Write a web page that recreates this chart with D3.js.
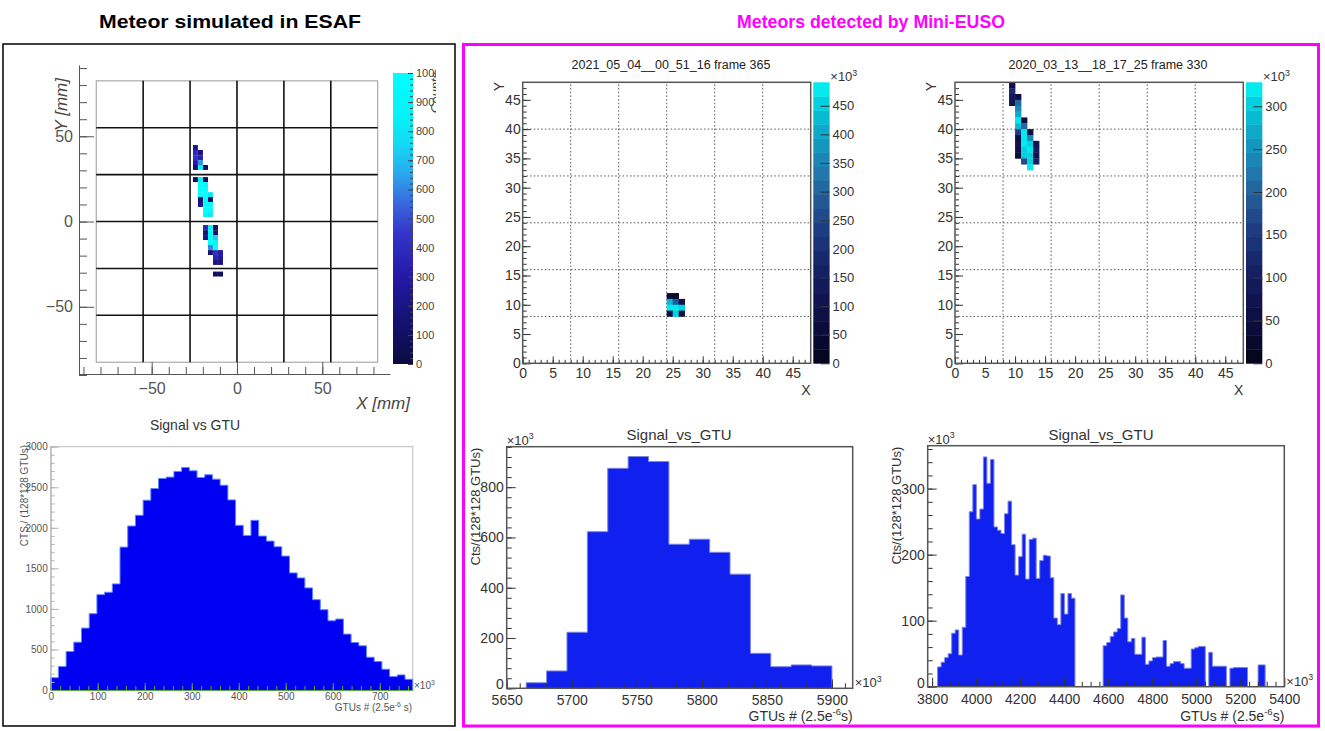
<!DOCTYPE html>
<html>
<head>
<meta charset="utf-8">
<title>Meteor: ESAF simulation vs Mini-EUSO detections</title>
<script src="https://cdn.jsdelivr.net/npm/d3@7"></script>
<style>
  body { margin: 0; background: #fff; }
  svg { display: block; font-family: "Liberation Sans", Arial, Helvetica, sans-serif; }
</style>
</head>
<body>
<svg id="chart" width="1325" height="731"></svg>
<script>
// Panel headings
const leftHeading = "Meteor simulated in ESAF";
const rightHeading = "Meteors detected by Mini-EUSO";

// ESAF focal surface image: [x mm, y mm, counts] (cell centres)
const esafCells = [
  [-24.35, 43.4, 220], [-24.35, 40.5, 380], [-24.35, 37.5, 420], [-24.35, 34.6, 300], [-24.35, 31.7, 160],
  [-21.4, 40.5, 180], [-21.4, 37.5, 330], [-21.4, 34.6, 620], [-21.4, 31.7, 880], [-18.45, 31.7, 90],
  [-24.35, 24.6, 90], [-21.4, 24.6, 850], [-18.45, 24.6, 80],
  [-21.4, 21.7, 980], [-18.45, 21.7, 940],
  [-21.4, 18.8, 1000], [-18.45, 18.8, 1000],
  [-21.4, 15.8, 950], [-18.45, 15.8, 1000], [-15.55, 15.8, 820],
  [-21.4, 12.9, 140], [-18.45, 12.9, 1000], [-15.55, 12.9, 110],
  [-21.4, 10.0, 200], [-18.45, 10.0, 1000], [-15.55, 10.0, 960],
  [-18.45, 7.0, 1000], [-15.55, 7.0, 950],
  [-18.45, 4.1, 900], [-15.55, 4.1, 820],
  [-18.45, -3.5, 380], [-15.55, -3.5, 900], [-12.6, -3.5, 90],
  [-18.45, -6.5, 160], [-15.55, -6.5, 1000], [-12.6, -6.5, 120],
  [-18.45, -9.4, 200], [-15.55, -9.4, 950], [-12.6, -9.4, 720],
  [-15.55, -12.3, 1000], [-12.6, -12.3, 900],
  [-15.55, -15.2, 600], [-12.6, -15.2, 1000],
  [-15.55, -18.2, 150], [-12.6, -18.2, 420], [-9.65, -18.2, 300],
  [-12.6, -21.1, 350], [-9.65, -21.1, 260],
  [-12.6, -24.0, 220], [-9.65, -24.0, 200],
  [-12.6, -30.8, 110], [-9.65, -30.8, 90]
];
const esafCellSize = 2.9;
const esafEcLines = [-55, -27.5, 0, 27.5, 55];
const esafPdmHalf = 82.5;
const esafAxisTicks = [-50, 0, 50];
const esafCountTicks = [0, 100, 200, 300, 400, 500, 600, 700, 800, 900, 1000];

// ESAF light curve (GTU x10^3, 47 bins)
const esafHistRange = [0, 770];
const esafHistValues = [152, 289, 474, 590, 763, 941, 1176, 1205, 1308, 1762,
  2022, 2154, 2340, 2484, 2608, 2625, 2695, 2744, 2703, 2621,
  2654, 2600, 2525, 2344, 2030, 1906, 2092, 1898, 1836, 1766,
  1651, 1444, 1382, 1259, 1114, 990, 854, 875, 689, 586,
  545, 404, 351, 256, 165, 186, 132];
const esafHistXTicks = [0, 100, 200, 300, 400, 500, 600, 700];
const esafHistYTicks = [0, 500, 1000, 1500, 2000, 2500, 3000];

// Mini-EUSO frames: [pixel x, pixel y, counts x10^3]
const frameTitles = ["2021_05_04__00_51_16 frame 365", "2020_03_13__18_17_25 frame 330"];
const frameAPixels = [
  [24, 11, 60], [25, 11, 40],
  [24, 10, 420], [25, 10, 280], [26, 10, 100],
  [24, 9, 470], [25, 9, 490], [26, 9, 460],
  [24, 8, 80], [25, 8, 450], [26, 8, 90]
];
const frameBPixels = [
  [9, 47, 60], [9, 46, 120], [9, 45, 90], [9, 44, 70],
  [10, 45, 60], [10, 44, 200], [10, 43, 230], [10, 42, 270], [10, 41, 320], [10, 40, 290],
  [10, 39, 150], [10, 38, 60], [10, 37, 80], [10, 36, 50], [10, 35, 40],
  [11, 41, 60], [11, 40, 200], [11, 39, 320], [11, 38, 328], [11, 37, 320], [11, 36, 310],
  [11, 35, 300], [11, 34, 180],
  [12, 39, 50], [12, 38, 230], [12, 37, 310], [12, 36, 320], [12, 35, 300], [12, 34, 310], [12, 33, 320],
  [13, 37, 70], [13, 36, 90], [13, 35, 80], [13, 34, 100]
];
const frameZMax = [491, 328];
const frameAZTicks = [0, 50, 100, 150, 200, 250, 300, 350, 400, 450];
const frameBZTicks = [0, 50, 100, 150, 200, 250, 300];
const pixelTicks = [0, 5, 10, 15, 20, 25, 30, 35, 40, 45];
const pixelGrid = [8, 16, 24, 32, 40];

// Mini-EUSO light curves (counts x10^3 per bin)
const histTitle = "Signal_vs_GTU";
const histAStart = 5665, histABin = 15.67;
const histAValues = [22, 69, 223, 623, 875, 922, 902, 573, 593, 541, 454, 139, 86, 93, 89];
const histAXTicks = [5650, 5700, 5750, 5800, 5850, 5900];
const histAYTicks = [0, 200, 400, 600, 800];
const histBStart = 3825, histBBin = 16;
const histBValues = [30, 37, 44, 50, 81, 86, 48, 90, 167, 265,
  306, 254, 269, 348, 308, 344, 242, 237, 232, 262,
  281, 215, 169, 197, 231, 163, 223, 225, 164, 191,
  199, 198, 165, 104, 94, 141, 110, 141, 134,
  0, 0, 0, 0, 0, 0, 0, 0,
  62, 67, 76, 83, 88, 139, 104, 68, 73, 49,
  49, 75, 34, 39, 44, 45, 45, 70, 31, 35,
  38, 38, 35, 28, 28, 57, 59, 61, 61, 0,
  52, 31, 31, 31, 31, 0, 28, 29, 29, 29,
  29, 0, 0, 0, 33, 33];
const histBXTicks = [3800, 4000, 4200, 4400, 4600, 4800, 5000, 5200, 5400];
const histBYTicks = [0, 100, 200, 300];

const svg = d3.select("#chart");
const defs = svg.append("defs");
const fmt = d3.format("d");

// ---------- outer frames and headings ----------
svg.append("rect").attr("x", 3).attr("y", 44).attr("width", 452).attr("height", 682)
  .attr("fill", "none").attr("stroke", "#000").attr("stroke-width", 1.5);
svg.append("rect").attr("x", 463.5).attr("y", 44.5).attr("width", 855).attr("height", 681.5)
  .attr("fill", "none").attr("stroke", "#ff00ff").attr("stroke-width", 3);
svg.append("text").attr("x", 230).attr("y", 28).attr("text-anchor", "middle")
  .attr("font-size", 18.5).attr("font-weight", "bold").attr("fill", "#000")
  .attr("textLength", 262).attr("lengthAdjust", "spacingAndGlyphs").text(leftHeading);
svg.append("text").attr("x", 871).attr("y", 28).attr("text-anchor", "middle")
  .attr("font-size", 18.5).attr("font-weight", "bold").attr("fill", "#ff00ff")
  .attr("textLength", 268).attr("lengthAdjust", "spacingAndGlyphs").text(rightHeading);

// helpers
function styleAxis(g, color, size) {
  g.attr("font-family", null).attr("font-size", size).attr("color", color);
}
function sciText(g, x, y, size, pre, sup, post, anchor, color) {
  const t = g.append("text").attr("x", x).attr("y", y).attr("font-size", size)
    .attr("text-anchor", anchor || "start").attr("fill", color || "#333");
  t.append("tspan").text(pre);
  t.append("tspan").attr("dy", -size * 0.42).attr("font-size", size * 0.68).text(sup);
  if (post) t.append("tspan").attr("dy", size * 0.42).text(post);
  return t;
}
function rotLabel(g, x, y, size, text, opts) {
  return g.append("text").attr("transform", `translate(${x},${y}) rotate(-90)`)
    .attr("text-anchor", "end").attr("font-size", size).attr("fill", opts.color)
    .attr("font-style", opts.italic ? "italic" : null).text(text);
}
function stepPoints(start, bin, values) {
  const pts = values.map((v, i) => [start + i * bin, v]);
  pts.push([start + values.length * bin, values[values.length - 1]]);
  return pts;
}
function drawSteps(g, x, y, pts, fill, line) {
  g.append("path").datum(pts)
    .attr("d", d3.area().curve(d3.curveStepAfter).x(d => x(d[0])).y0(y(0)).y1(d => y(d[1])))
    .attr("fill", fill);
  const outline = [[pts[0][0], 0]].concat(pts, [[pts[pts.length - 1][0], 0]]);
  g.append("path").datum(outline)
    .attr("d", d3.line().curve(d3.curveStepAfter).x(d => x(d[0])).y(d => y(d[1])))
    .attr("fill", "none").attr("stroke", line).attr("stroke-width", 1);
}

// ---------- ESAF pixel map ----------
const ex = d3.scaleLinear().domain([-92.6, 89.7]).range([79, 390]);
const ey = d3.scaleLinear().domain([-90, 91.8]).range([375, 65]);
const esafColor = d3.scaleLinear()
  .domain([0, 150, 300, 450, 550, 650, 750, 850, 1000])
  .range(["#0b0b40", "#141272", "#2518a6", "#3335cc", "#3a66dc", "#2aa6ee", "#14d8f4", "#05f2f6", "#00ffff"]);

const eMap = svg.append("g");
eMap.append("rect")
  .attr("x", ex(-esafPdmHalf)).attr("y", ey(esafPdmHalf))
  .attr("width", ex(esafPdmHalf) - ex(-esafPdmHalf)).attr("height", ey(-esafPdmHalf) - ey(esafPdmHalf))
  .attr("fill", "#fff").attr("stroke", "#999");
eMap.selectAll(".cell").data(esafCells).join("rect").attr("class", "cell")
  .attr("x", d => ex(d[0] - esafCellSize / 2))
  .attr("y", d => ey(d[1] + esafCellSize / 2))
  .attr("width", ex(esafCellSize) - ex(0))
  .attr("height", ey(0) - ey(esafCellSize))
  .attr("fill", d => esafColor(d[2]));
eMap.selectAll(".vline").data(esafEcLines).join("line").attr("class", "vline")
  .attr("x1", d => ex(d)).attr("x2", d => ex(d))
  .attr("y1", ey(esafPdmHalf)).attr("y2", ey(-esafPdmHalf))
  .attr("stroke", "#111").attr("stroke-width", 1.6);
eMap.selectAll(".hline").data(esafEcLines).join("line").attr("class", "hline")
  .attr("y1", d => ey(d)).attr("y2", d => ey(d))
  .attr("x1", ex(-esafPdmHalf)).attr("x2", ex(esafPdmHalf))
  .attr("stroke", "#111").attr("stroke-width", 1.6);

// ESAF axes (detached from the frame, ticks inward)
svg.append("g").attr("transform", "translate(79,0)")
  .call(d3.axisLeft(ey).tickValues(esafAxisTicks).tickFormat(fmt).tickSizeInner(-15).tickSizeOuter(0).tickPadding(6))
  .call(g => styleAxis(g, "#555", 16));
svg.append("g").attr("transform", "translate(79,0)")
  .call(d3.axisLeft(ey).tickValues(d3.range(-90, 91, 10)).tickSize(-8).tickFormat(""))
  .call(g => { g.select(".domain").remove(); g.attr("color", "#555"); });
svg.append("g").attr("transform", "translate(0,374)")
  .call(d3.axisBottom(ex).tickValues(esafAxisTicks).tickFormat(fmt).tickSizeInner(-12).tickSizeOuter(0).tickPadding(9))
  .call(g => styleAxis(g, "#555", 16));
svg.append("g").attr("transform", "translate(0,374)")
  .call(d3.axisBottom(ex).tickValues(d3.range(-90, 90, 10)).tickSize(-7).tickFormat(""))
  .call(g => { g.select(".domain").remove(); g.attr("color", "#555"); });
svg.append("text").attr("x", 410).attr("y", 409).attr("text-anchor", "end")
  .attr("font-size", 17).attr("font-style", "italic").attr("fill", "#444").text("X [mm]");
rotLabel(svg, 67, 78, 17, "Y [mm]", { color: "#444", italic: true });

// ESAF colour bar
const ez = d3.scaleLinear().domain([0, 1000]).range([364, 73]);
const eGrad = defs.append("linearGradient").attr("id", "esafGrad")
  .attr("x1", 0).attr("y1", 1).attr("x2", 0).attr("y2", 0);
esafColor.domain().forEach((v, i) => eGrad.append("stop")
  .attr("offset", v / 1000).attr("stop-color", esafColor.range()[i]));
defs.append("clipPath").attr("id", "leftClip").append("rect")
  .attr("x", 0).attr("y", 0).attr("width", 436).attr("height", 731);
const eBar = svg.append("g").attr("clip-path", "url(#leftClip)");
eBar.append("rect").attr("x", 393).attr("width", 20)
  .attr("y", ez(1000)).attr("height", ez(0) - ez(1000)).attr("fill", "url(#esafGrad)");
eBar.append("g").attr("transform", "translate(413,0)")
  .call(d3.axisRight(ez).tickValues(esafCountTicks).tickFormat(fmt).tickSizeInner(-5).tickSizeOuter(0).tickPadding(3))
  .call(g => { styleAxis(g, "#444", 11); g.select(".domain").remove(); });
eBar.append("g").attr("transform", "translate(413,0)")
  .call(d3.axisRight(ez).tickValues(d3.range(0, 1001, 20)).tickSize(-3).tickFormat(""))
  .call(g => { g.select(".domain").remove(); g.attr("color", "#444"); });
rotLabel(eBar, 440, 72, 13, "Counts", { color: "#444", italic: true });

// ---------- ESAF light curve ----------
const hx = d3.scaleLinear().domain(esafHistRange).range([50.7, 412.7]);
const hy = d3.scaleLinear().domain([0, 3000]).range([690, 446.7]);
const eHist = svg.append("g");
eHist.append("text").attr("x", 195).attr("y", 430).attr("text-anchor", "middle")
  .attr("font-size", 14).attr("fill", "#333").text("Signal vs GTU");
eHist.append("rect").attr("x", hx(0)).attr("y", hy(3000))
  .attr("width", hx(770) - hx(0)).attr("height", hy(0) - hy(3000))
  .attr("fill", "#fff").attr("stroke", "#bbb");
drawSteps(eHist, hx, hy, stepPoints(esafHistRange[0], (esafHistRange[1] - esafHistRange[0]) / esafHistValues.length, esafHistValues), "#0000f2", "#5d86ff");
eHist.append("g").attr("transform", `translate(${hx(0)},0)`)
  .call(d3.axisLeft(hy).tickValues(esafHistYTicks).tickFormat(fmt).tickSizeInner(-8).tickSizeOuter(0).tickPadding(3))
  .call(g => { styleAxis(g, "#555", 10); g.selectAll("line,path").attr("stroke", "#b5b5b5"); });
eHist.append("g").attr("transform", `translate(${hx(0)},0)`)
  .call(d3.axisLeft(hy).tickValues(d3.range(0, 3001, 100)).tickSize(-4).tickFormat(""))
  .call(g => { g.select(".domain").remove(); g.attr("color", "#b5b5b5"); });
eHist.append("g").attr("transform", `translate(0,${hy(0)})`)
  .call(d3.axisBottom(hx).tickValues(esafHistXTicks).tickFormat(fmt).tickSizeInner(-7).tickSizeOuter(0).tickPadding(3))
  .call(g => { styleAxis(g, "#555", 10); g.selectAll("line,path").attr("stroke", "#5da83c"); });
eHist.append("g").attr("transform", `translate(0,${hy(0)})`)
  .call(d3.axisBottom(hx).tickValues(d3.range(0, 770, 20)).tickSize(-4).tickFormat(""))
  .call(g => { g.select(".domain").remove(); g.attr("color", "#5da83c"); });
sciText(eHist, 414, 689, 10, "×10", "3", null, "start", "#555");
sciText(eHist, 412, 711, 10, "GTUs # (2.5e", "-6", " s)", "end", "#555");
rotLabel(eHist, 28, 445, 10, "CTS / (128*128 GTUs)", { color: "#555" });

// ---------- Mini-EUSO pixel maps ----------
const seaColor = d3.scaleLinear()
  .domain([0, 0.1, 0.22, 0.34, 0.46, 0.57, 0.67, 0.77, 0.87, 0.95, 1])
  .range(["#04041a", "#0a0a36", "#10124e", "#162266", "#1c387e", "#245694", "#2274aa", "#1594be", "#09b8d2", "#03dbe6", "#00f6f6"]);
const nBands = 20;
const seaBand = t => seaColor((Math.min(nBands - 1, Math.floor(t * nBands)) + 0.5) / nBands);

function pixelPanel(p) {
  const top = 82.3, bottom = 363.3;
  const x = d3.scaleLinear().domain([0, 48]).range([p.left, p.right]);
  const y = d3.scaleLinear().domain([0, 48]).range([bottom, top]);
  const z = d3.scaleLinear().domain([0, p.zMax]).range([bottom, top]);
  const g = svg.append("g");

  g.append("text").attr("x", p.titleX).attr("y", 69).attr("text-anchor", "middle")
    .attr("font-size", 12.5).attr("fill", "#222").text(p.title);
  g.append("rect").attr("x", p.left).attr("y", top)
    .attr("width", p.right - p.left).attr("height", bottom - top).attr("fill", "#fff");

  g.selectAll(".gx").data(pixelGrid).join("line").attr("class", "gx")
    .attr("x1", d => x(d)).attr("x2", d => x(d)).attr("y1", bottom).attr("y2", top)
    .attr("stroke", "#555").attr("stroke-dasharray", "1.5,2.2");
  g.selectAll(".gy").data(pixelGrid).join("line").attr("class", "gy")
    .attr("y1", d => y(d)).attr("y2", d => y(d)).attr("x1", p.left).attr("x2", p.right)
    .attr("stroke", "#555").attr("stroke-dasharray", "1.5,2.2");

  g.selectAll(".pix").data(p.pixels).join("rect").attr("class", "pix")
    .attr("x", d => x(d[0])).attr("y", d => y(d[1] + 1))
    .attr("width", x(1) - x(0) + 0.3).attr("height", y(0) - y(1) + 0.3)
    .attr("fill", d => seaBand(d[2] / p.zMax));

  g.append("g").attr("transform", `translate(${p.left},0)`)
    .call(d3.axisLeft(y).tickValues(pixelTicks).tickFormat(fmt).tickSizeInner(-8).tickSizeOuter(0).tickPadding(2))
    .call(a => { styleAxis(a, "#333", 14); a.select(".domain").remove(); });
  g.append("g").attr("transform", `translate(${p.left},0)`)
    .call(d3.axisLeft(y).tickValues(d3.range(0, 48)).tickSize(-4).tickFormat(""))
    .call(a => { a.select(".domain").remove(); a.attr("color", "#333"); });
  g.append("g").attr("transform", `translate(0,${bottom})`)
    .call(d3.axisBottom(x).tickValues(pixelTicks).tickFormat(fmt).tickSizeInner(-7).tickSizeOuter(0).tickPadding(5))
    .call(a => { styleAxis(a, "#333", 14); a.select(".domain").remove(); });
  g.append("g").attr("transform", `translate(0,${bottom})`)
    .call(d3.axisBottom(x).tickValues(d3.range(0, 48)).tickSize(-3.5).tickFormat(""))
    .call(a => { a.select(".domain").remove(); a.attr("color", "#333"); });

  g.append("rect").attr("x", p.left).attr("y", top)
    .attr("width", p.right - p.left).attr("height", bottom - top)
    .attr("fill", "none").attr("stroke", "#555").attr("stroke-width", 1.5);

  // colour bar
  const cbW = 16.3;
  g.selectAll(".band").data(d3.range(nBands)).join("rect").attr("class", "band")
    .attr("x", p.cb).attr("width", cbW)
    .attr("y", i => z(p.zMax * (i + 1) / nBands))
    .attr("height", i => z(p.zMax * i / nBands) - z(p.zMax * (i + 1) / nBands) + 0.4)
    .attr("fill", i => seaColor((i + 0.5) / nBands));
  g.append("g").attr("transform", `translate(${p.cb + cbW},0)`)
    .call(d3.axisRight(z).tickValues(p.zTicks).tickFormat(fmt).tickSizeInner(-9).tickSizeOuter(0).tickPadding(3))
    .call(a => { styleAxis(a, "#333", 13); a.select(".domain").remove(); });
  sciText(g, p.cb + 17, 81, 13, "×10", "3", null, "start", "#333");

  rotLabel(g, p.left - 19, 82, 14, "Y", { color: "#333" });
  g.append("text").attr("x", p.right).attr("y", 395).attr("text-anchor", "end")
    .attr("font-size", 14).attr("fill", "#333").text("X");
}

pixelPanel({ left: 522.7, right: 810.7, cb: 813.3, titleX: 671, title: frameTitles[0],
  pixels: frameAPixels, zMax: frameZMax[0], zTicks: frameAZTicks });
pixelPanel({ left: 955, right: 1243.3, cb: 1246, titleX: 1108, title: frameTitles[1],
  pixels: frameBPixels, zMax: frameZMax[1], zTicks: frameBZTicks });

// ---------- Mini-EUSO light curves ----------
function histPanel(p) {
  const x = d3.scaleLinear().domain(p.xDomain).range([p.left, p.right]);
  const y = d3.scaleLinear().domain(p.yDomain).range([p.bottom, p.top]);
  const g = svg.append("g");

  g.append("text").attr("x", p.titleX).attr("y", 440).attr("text-anchor", "middle")
    .attr("font-size", 15).attr("fill", "#333").text(histTitle);
  drawSteps(g, x, y, stepPoints(p.start, p.bin, p.values), "#1020ee", "#7d84e6");

  g.append("g").attr("transform", `translate(${p.left},0)`)
    .call(d3.axisLeft(y).tickValues(p.yTicks).tickFormat(fmt).tickSizeInner(-9).tickSizeOuter(0).tickPadding(3))
    .call(a => {
      styleAxis(a, "#333", 14); a.select(".domain").remove();
      // the zero label sits a little higher, as in ROOT
      a.selectAll(".tick text").filter(d => d === 0).attr("y", -4);
    });
  g.append("g").attr("transform", `translate(${p.left},0)`)
    .call(d3.axisLeft(y).tickValues(d3.range(0, p.yDomain[1], p.yMinor)).tickSize(-5).tickFormat(""))
    .call(a => { a.select(".domain").remove(); a.attr("color", "#333"); });
  g.append("g").attr("transform", `translate(0,${p.bottom})`)
    .call(d3.axisBottom(x).tickValues(p.xTicks).tickFormat(fmt).tickSizeInner(-9).tickSizeOuter(0).tickPadding(7))
    .call(a => { styleAxis(a, "#333", 14); a.select(".domain").remove(); });
  g.append("g").attr("transform", `translate(0,${p.bottom})`)
    .call(d3.axisBottom(x).tickValues(d3.range(p.xTicks[0], p.xDomain[1], p.xMinor)).tickSize(-5).tickFormat(""))
    .call(a => { a.select(".domain").remove(); a.attr("color", "#333"); });

  g.append("rect").attr("x", p.left).attr("y", p.top)
    .attr("width", p.right - p.left).attr("height", p.bottom - p.top)
    .attr("fill", "none").attr("stroke", "#555").attr("stroke-width", 1.5);

  sciText(g, p.left, p.top - 2, 13, "×10", "3", null, "start", "#333");
  sciText(g, p.right + 2, p.bottom - 1, 13, "×10", "3", null, "start", "#333");
  sciText(g, p.right, 721, 14, "GTUs # (2.5e", "-6", "s)", "end", "#333");
  rotLabel(g, p.left - 27, p.top + 1, 13, "Cts/(128*128 GTUs)", { color: "#333" });
}

histPanel({ left: 506.7, right: 852.7, top: 446.7, bottom: 688.3, titleX: 679,
  xDomain: [5650, 5916], yDomain: [0, 961], start: histAStart, bin: histABin, values: histAValues,
  xTicks: histAXTicks, yTicks: histAYTicks, xMinor: 10, yMinor: 40 });
histPanel({ left: 927.7, right: 1284.3, top: 445.7, bottom: 686.7, titleX: 1101,
  xDomain: [3780, 5400], yDomain: [0, 365], start: histBStart, bin: histBBin, values: histBValues,
  xTicks: histBXTicks, yTicks: histBYTicks, xMinor: 40, yMinor: 20 });
</script>
</body>
</html>
